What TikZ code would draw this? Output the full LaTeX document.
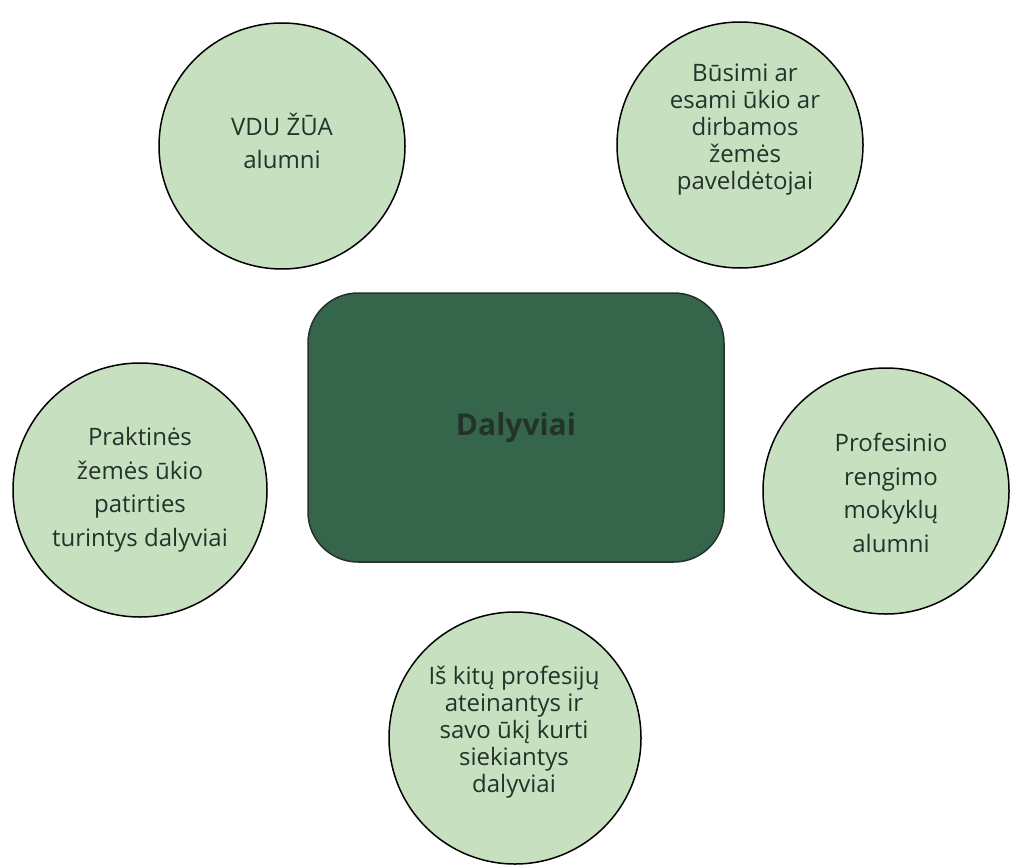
\documentclass[tikz,border=0pt]{standalone}
\usepackage{fontspec}
\setmainfont{Open Sans}
\usepackage{tikz}
\usetikzlibrary{calc}
\usepackage{xcolor}

\definecolor{lightleaf}{HTML}{C6E0C0}
\definecolor{darkleaf}{HTML}{35654A}
\definecolor{inkgreen}{HTML}{24332A}

\tikzset{
  group/.style={circle,draw=black,line width=1.5pt,fill=lightleaf,inner sep=0pt},
  grouptext/.style={align=center,text=inkgreen,font=\fontsize{24}{33.5}\selectfont},
  tighttext/.style={grouptext,font=\fontsize{24}{27}\selectfont}
}

\begin{document}
\begin{tikzpicture}[x=1pt,y=-1pt]
\useasboundingbox (0,0) rectangle (1011,864);

% centre
\node[draw=inkgreen,line width=1.5pt,fill=darkleaf,rounded corners=50pt,
  minimum width=416pt,minimum height=269pt] (center) at (516,427.5) {};
\node[text=inkgreen,font=\fontsize{30}{36}\selectfont\bfseries] (centertext) at (center) {Dalyviai};

% groups round it
\node[group,minimum size=246pt] (alumni) at (282,146) {};
\node[grouptext] (alumnitext) at (282,141) {VDU ŽŪA\\alumni};

\node[group,minimum size=246pt] (heirs) at (740,145) {};
\node[tighttext] (heirstext) at (745,130) {Būsimi ar\\esami ūkio ar\\dirbamos\\žemės\\paveldėtojai};

\node[group,minimum size=254pt] (practice) at (140,490) {};
\node[grouptext] (practicetext) at (140,490) {Praktinės\\žemės ūkio\\patirties\\turintys dalyviai};

\node[group,minimum size=246pt] (schools) at (886,491) {};
\node[grouptext] (schoolstext) at (891,493) {Profesinio\\rengimo\\mokyklų\\alumni};

\node[group,minimum size=252pt] (newcomers) at (515,738) {};
\node[tighttext] (newcomerstext) at (514,732) {Iš kitų profesijų\\ateinantys ir\\savo ūkį kurti\\siekiantys\\dalyviai};

\end{tikzpicture}
\end{document}
